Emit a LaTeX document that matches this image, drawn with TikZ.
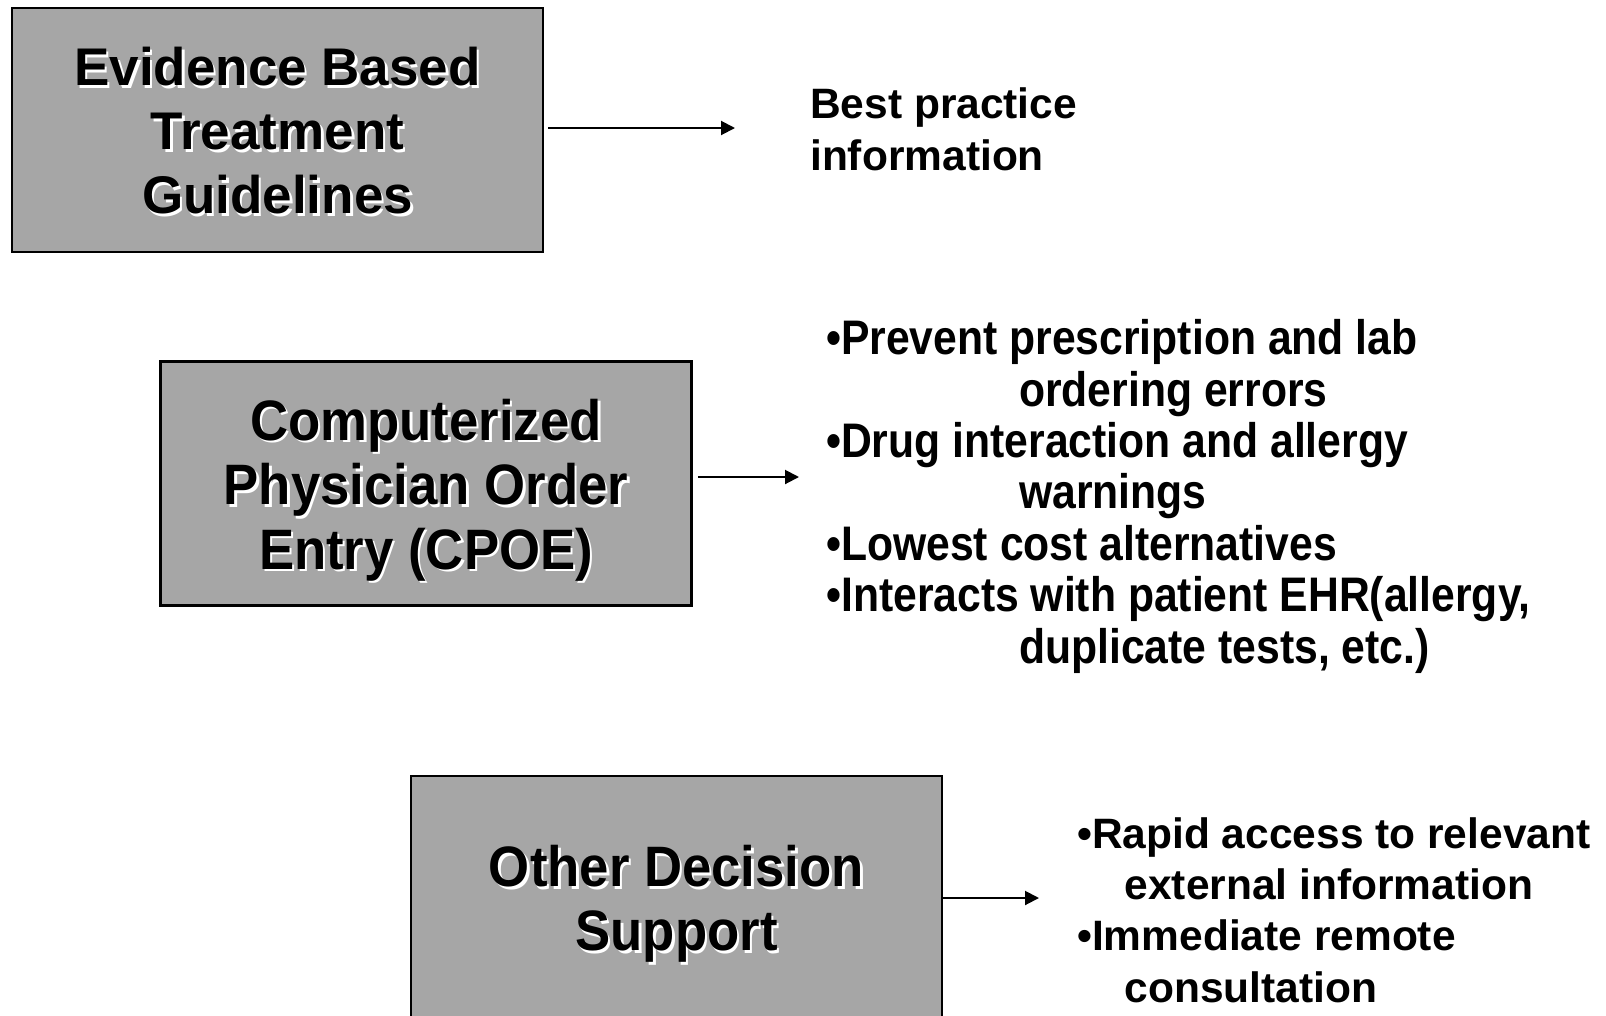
\documentclass[tikz,border=0pt]{standalone}
\usepackage{fontspec}
\setmainfont{Liberation Sans}
\newfontfamily\tallbox[FakeStretch=0.925]{Liberation Sans}
\newfontfamily\tallitem[FakeStretch=0.88]{Liberation Sans}
\usetikzlibrary{arrows.meta}
\definecolor{boxgray}{RGB}{166,166,166}
\newcommand\shd[1]{\leavevmode\rlap{\hspace{2.5pt}\raisebox{-2.5pt}{\textcolor{white}{#1}}}#1}
\begin{document}
\begin{tikzpicture}[x=1pt,y=-1pt,
  box/.style={draw=black, line width=2.5pt, fill=boxgray, minimum width=531pt, minimum height=244pt, inner sep=0pt},
  boxtext/.style={inner sep=0pt, align=center},
  arr/.style={line width=2pt, -{Triangle[length=14pt,width=14pt]}},
  item/.style={anchor=base west, inner sep=0pt, align=left}]
\clip (0,0) rectangle (1606,1015);
\fill[white] (0,0) rectangle (1606,1015);
% boxes
\node[box] (b1) at (277.5,130) {};
\node[box] (b2) at (426,483.5) {};
\node[box] (b3) at (676.5,898) {};
\node[boxtext, yshift=-2pt, font=\bfseries\fontsize{53}{64}\selectfont] (l1) at (b1.center) {\shd{Evidence Based}\\\shd{Treatment}\\\shd{Guidelines}};
\node[boxtext, yshift=-8pt, font=\tallbox\bfseries\fontsize{57}{64.5}\selectfont] (l2) at (b2.center) {\shd{Computerized}\\\shd{Physician Order}\\\shd{Entry (CPOE)}};
\node[boxtext, yshift=-7pt, font=\tallbox\bfseries\fontsize{57}{64}\selectfont] (l3) at (b3.center) {\shd{Other Decision}\\\shd{Support}};
% texts (anchored at the baseline of their last line)
\node[item, font=\bfseries\fontsize{42.5}{51.2}\selectfont] (t1) at (810,170) {Best practice\\information};
\node[item, font=\tallitem\bfseries\fontsize{48.5}{51.4}\selectfont] (t2) at (826,663) {•Prevent prescription and lab\\\hspace*{193pt}ordering errors\\•Drug interaction and allergy\\\hspace*{193pt}warnings\\•Lowest cost alternatives\\•Interacts with patient EHR(allergy,\\\hspace*{193pt}duplicate tests, etc.)};
\node[item, font=\bfseries\fontsize{42.5}{51.2}\selectfont] (t3) at (1077,1002) {•Rapid access to relevant\\\hspace*{47.5pt}external information\\•Immediate remote\\\hspace*{47.5pt}consultation};
% arrows
\coordinate (e1) at (735,128);
\coordinate (e2) at (799,477);
\coordinate (e3) at (1039,898);
\draw[arr, shorten <=4pt] (b1.east |- e1) -- (e1);
\draw[arr, shorten <=5pt] (b2.east |- e2) -- (e2);
\draw[arr] (b3.east |- e3) -- (e3);
\end{tikzpicture}
\end{document}
